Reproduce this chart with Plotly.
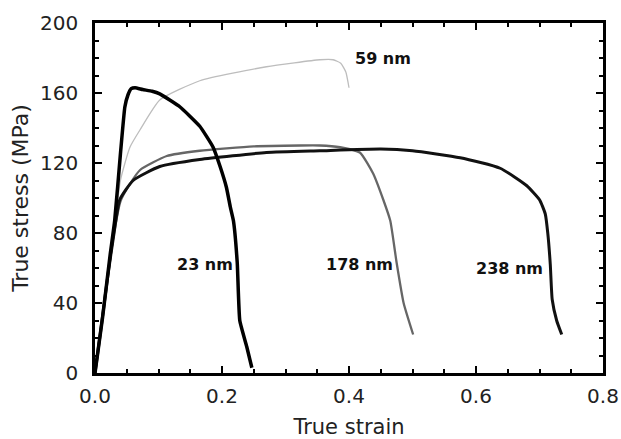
import plotly.graph_objects as go

# 23 nm
x23 = [0, 0.012, 0.024, 0.031, 0.04, 0.047, 0.052, 0.057, 0.063, 0.075, 0.09, 0.102, 0.134, 0.165, 0.186, 0.197, 0.207, 0.213, 0.218, 0.224, 0.228, 0.239, 0.247]
y23 = [0, 32, 68, 87, 125, 152, 159, 162.5, 163, 162, 161, 159.5, 152, 141, 129, 118, 106, 95, 87, 63, 30, 15, 3]
# 59 nm
x59 = [0, 0.01, 0.02, 0.03, 0.04, 0.055, 0.071, 0.102, 0.165, 0.27, 0.354, 0.375, 0.387, 0.395, 0.40]
y59 = [0, 28, 55, 82, 110, 129, 139, 156, 167, 175, 179, 179, 177, 172, 163]
# 178 nm
x178 = [0, 0.01, 0.02, 0.03, 0.04, 0.055, 0.071, 0.113, 0.165, 0.25, 0.323, 0.354, 0.386, 0.417, 0.438, 0.454, 0.465, 0.475, 0.486, 0.501]
y178 = [0, 27, 55, 80, 98, 108, 116, 124, 127, 129.5, 130, 130, 129, 126, 114, 99, 87, 63, 40, 22]
# 238 nm
x238 = [0, 0.01, 0.02, 0.03, 0.039, 0.06, 0.102, 0.165, 0.27, 0.354, 0.45, 0.5, 0.575, 0.638, 0.68, 0.70, 0.709, 0.713, 0.717, 0.72, 0.727, 0.735]
y238 = [0, 27, 55, 80, 99, 110, 118, 122, 126, 127, 128, 127, 123, 117, 107, 99, 91, 80, 62, 42, 30, 22]

labels = ["59 nm", "23 nm", "178 nm", "238 nm"]
label_x = [0.454, 0.173, 0.417, 0.652]
label_y = [180, 62, 62, 60]

fig = go.Figure()
fig.add_trace(go.Scatter(x=x59, y=y59, mode="lines", line=dict(color="#bdbdbd", width=1.3, shape="spline", smoothing=0.5)))
fig.add_trace(go.Scatter(x=x178, y=y178, mode="lines", line=dict(color="#666666", width=2.3, shape="spline", smoothing=0.5)))
fig.add_trace(go.Scatter(x=x238, y=y238, mode="lines", line=dict(color="#111111", width=3, shape="spline", smoothing=0.5)))
fig.add_trace(go.Scatter(x=x23, y=y23, mode="lines", line=dict(color="#000000", width=3.5, shape="spline", smoothing=0.4)))

for t, tx, ty in zip(labels, label_x, label_y):
    fig.add_annotation(x=tx, y=ty, text="<b>" + t + "</b>", showarrow=False,
                       font=dict(family="DejaVu Sans", size=16, color="#111"))

axis_common = dict(
    showline=True, linecolor="black", linewidth=2.5, mirror="allticks",
    ticks="inside", ticklen=7, tickwidth=2, tickcolor="black",
    showgrid=False, zeroline=False, automargin=False,
    tickfont=dict(family="DejaVu Sans", size=20, color="#222"),
)

fig.update_xaxes(range=[0, 0.8], tick0=0, dtick=0.2, tickformat=".1f",
                 minor=dict(dtick=0.05, tick0=0, ticks="inside", ticklen=4, tickwidth=2, tickcolor="black"),
                 ticklabelstandoff=3,
                 title=dict(text="True strain", standoff=16,
                            font=dict(family="DejaVu Sans", size=21, color="#222")),
                 **axis_common)
fig.update_yaxes(range=[0, 200], tick0=0, dtick=40,
                 minor=dict(dtick=10, tick0=0, ticks="inside", ticklen=4, tickwidth=2, tickcolor="black"),
                 ticklabelstandoff=10,
                 title=dict(text="True stress (MPa)", standoff=6,
                            font=dict(family="DejaVu Sans", size=22, color="#222")),
                 **axis_common)

fig.update_layout(width=621, height=439, margin=dict(l=95, r=18, t=23, b=66),
                  plot_bgcolor="white", paper_bgcolor="white", showlegend=False)

fig.write_html("out.html")
